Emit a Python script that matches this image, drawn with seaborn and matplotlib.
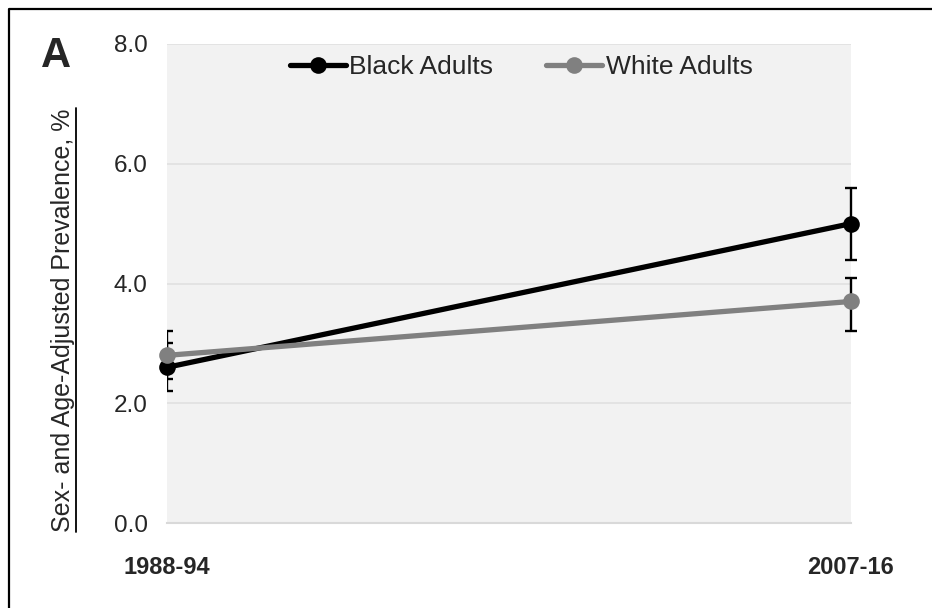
import matplotlib
matplotlib.use("Agg")
import matplotlib.pyplot as plt
from matplotlib.lines import Line2D
import numpy as np
import pandas as pd
import seaborn as sns

# Survey periods and prevalence estimates (%) with 95% CI bounds
periods = ["1988-94", "2007-16"]
groups = ["Black Adults", "White Adults"]
black_vals = [2.6, 5.0]
black_lo = [2.2, 4.4]
black_hi = [3.0, 5.6]
white_vals = [2.8, 3.7]
white_lo = [2.4, 3.2]
white_hi = [3.2, 4.1]
y_ticks = [0.0, 2.0, 4.0, 6.0, 8.0]

colors = {"Black Adults": "#000000", "White Adults": "#808080"}

df = pd.DataFrame({
    "pos": list(range(len(periods))) * 2,
    "period": periods * 2,
    "group": [groups[0]] * len(periods) + [groups[1]] * len(periods),
    "value": black_vals + white_vals,
    "lo": black_lo + white_lo,
    "hi": black_hi + white_hi,
})

sns.set_style("white")
plt.rcParams["font.family"] = ["Liberation Sans", "DejaVu Sans"]

W, H = 932, 608
fig = plt.figure(figsize=(W / 100, H / 100), dpi=100)
ax = fig.add_axes([167 / W, 1 - 523 / H, (851 - 167) / W, (523 - 44) / H])
ax.set_facecolor("#f2f2f2")

# Confidence intervals (left ones are clipped at the plot edge)
for _, row in df.iterrows():
    cont = ax.errorbar(row["pos"], row["value"],
                       yerr=[[row["value"] - row["lo"]], [row["hi"] - row["value"]]],
                       fmt="none", ecolor="black", elinewidth=1.7,
                       capsize=4, capthick=1.7, zorder=2)
    clip = row["pos"] == 0
    for art in cont.lines[1] + cont.lines[2]:
        art.set_clip_on(clip)

for g in groups:
    sub = df[df["group"] == g]
    sns.lineplot(data=sub, x="pos", y="value", ax=ax, color=colors[g],
                 linewidth=3.8, marker="o", markersize=12,
                 markeredgewidth=0, label=g, zorder=3, clip_on=False)

ax.set_xlim(0, len(periods) - 1)
ax.set_ylim(0, 8)
ax.set_yticks(y_ticks)
ax.set_yticklabels([f"{v:.1f}" for v in y_ticks], fontsize=17.5)
ax.set_xticks(range(len(periods)))
ax.set_xticklabels(periods, fontsize=17, fontweight="bold")
ax.tick_params(axis="y", length=0, pad=14)
ax.tick_params(axis="x", length=0, pad=24)
ax.set_xlabel("")
ax.set_ylabel("")

for s in ["top", "right", "left"]:
    ax.spines[s].set_visible(False)
ax.spines["bottom"].set_color("#d9d9d9")
ax.spines["bottom"].set_linewidth(1.5)
ax.yaxis.grid(True, color="#e2e2e2", linewidth=1.3)
ax.set_axisbelow(True)

handles, labels = ax.get_legend_handles_labels()
ax.legend(handles, labels, loc="center", bbox_to_anchor=(0.518, 0.952),
          ncol=2, frameon=False, fontsize=19, handlelength=2.1,
          handletextpad=0.15, columnspacing=2.0, borderaxespad=0)

# Panel letter and y-axis title
fig.text(56 / W, 1 - 56 / H, "A", fontsize=30, fontweight="bold",
         ha="center", va="center")
ylab = fig.text(63 / W, 1 - 320 / H, "Sex- and Age-Adjusted Prevalence, %",
                fontsize=18, rotation=90, ha="center", va="center")

# Underline the y-axis title
fig.canvas.draw()
bb = ylab.get_window_extent()
x_ul = (bb.x1 + 1) / W
fig.add_artist(Line2D([x_ul, x_ul], [bb.y0 / H, bb.y1 / H],
                      transform=fig.transFigure, color="black", linewidth=1.3))

# Outer frame
fx = 8.5 / W
fy = 1 - 8.5 / H
fig.add_artist(Line2D([fx, fx, 1.0], [0.0, fy, fy], transform=fig.transFigure,
                      color="black", linewidth=1.6))

fig.savefig("out.png", dpi=100)
